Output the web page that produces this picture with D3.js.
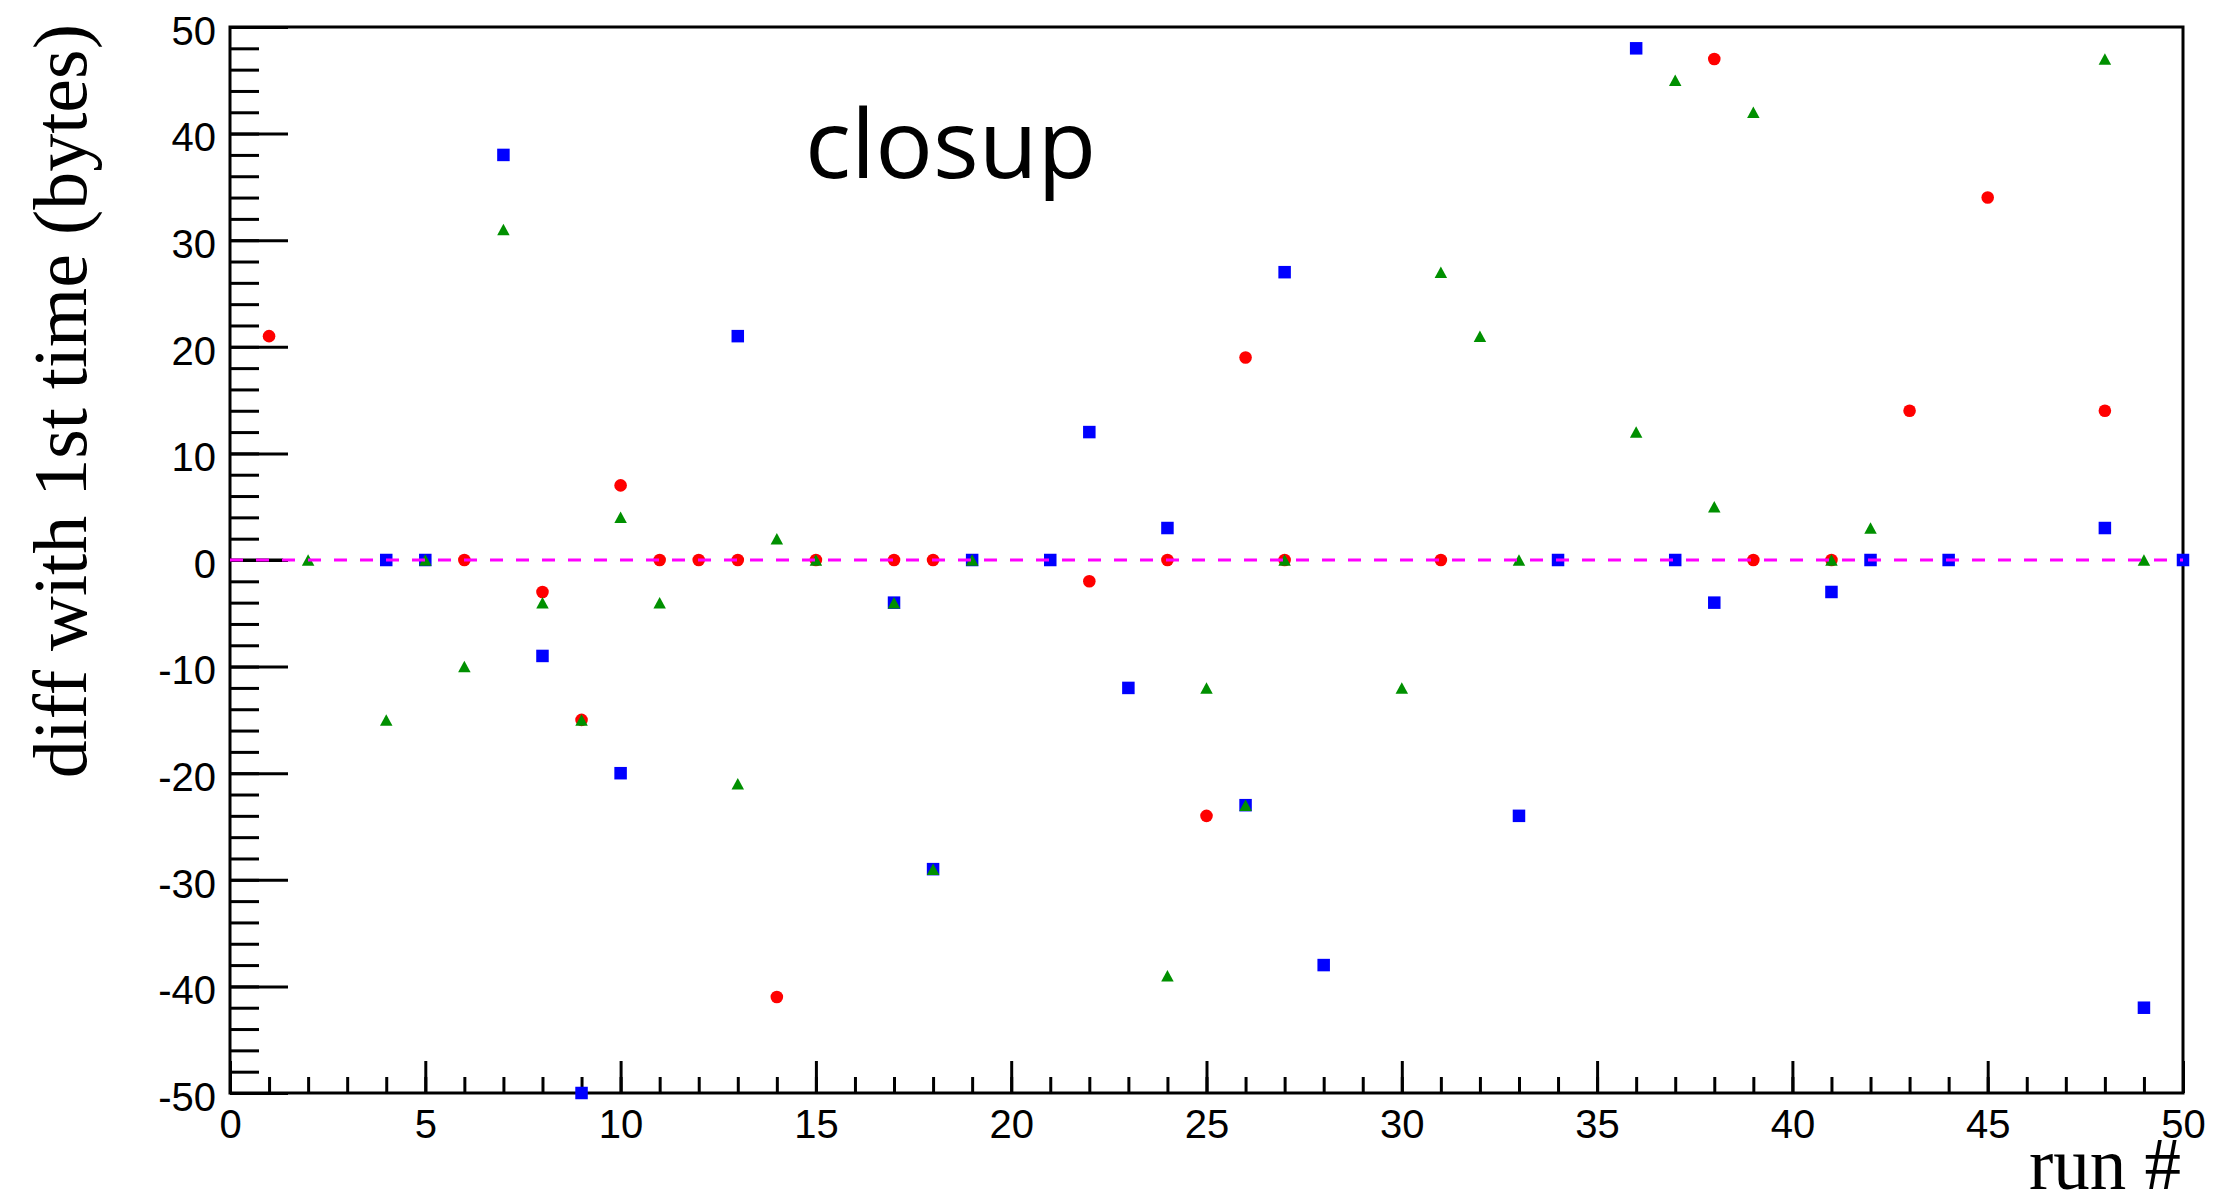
<!DOCTYPE html>
<html>
<head>
<meta charset="utf-8">
<script src="https://cdn.jsdelivr.net/npm/d3@7"></script>
<style>
    body { margin: 0; background: #fff; }
</style>
</head>
<body>
<div id="closup_plot"></div>
<script>
/**
 * Values: run number and diff (bytes) for each series.
 */
const redRuns   = [1, 6, 8, 9, 10, 11, 12, 13, 14, 15, 17, 18, 22, 24, 25, 26, 27, 31, 38, 39, 41, 43, 45, 48];
const redDiffs  = [21, 0, -3, -15, 7, 0, 0, 0, -41, 0, 0, 0, -2, 0, -24, 19, 0, 0, 47, 0, 0, 14, 34, 14];

const blueRuns  = [4, 5, 7, 8, 9, 10, 13, 17, 18, 19, 21, 22, 23, 24, 26, 27, 28, 33, 34, 36, 37, 38, 41, 42, 44, 48, 49, 50];
const blueDiffs = [0, 0, 38, -9, -50, -20, 21, -4, -29, 0, 0, 12, -12, 3, -23, 27, -38, -24, 0, 48, 0, -4, -3, 0, 0, 3, -42, 0];

const greenRuns  = [2, 4, 5, 6, 7, 8, 9, 10, 11, 13, 14, 15, 17, 18, 19, 24, 25, 26, 27, 30, 31, 32, 33, 36, 37, 38, 39, 41, 42, 48, 49];
const greenDiffs = [0, -15, 0, -10, 31, -4, -15, 4, -4, -21, 2, 0, -4, -29, 0, -39, -12, -23, 0, -12, 27, 21, 0, 12, 45, 5, 42, 0, 3, 47, 0];

// Reference level (dashed) and the short black stub at the left.
const refLevel = 0;
const stubRuns = [0, 1.36];

// Axis ranges and labelled ticks.
const xDomain = [0, 50];
const yDomain = [-50, 50];
const xTicks = [0, 5, 10, 15, 20, 25, 30, 35, 40, 45, 50];
const yTicks = [-50, -40, -30, -20, -10, 0, 10, 20, 30, 40, 50];

const titleText = "closup";
const xTitle = "run #";
const yTitle = "diff with 1st time (bytes)";

/**
 * Dimensions of the page and the frame.
 */
const PageW = 2216;
const PageH = 1199;
const Frame = { left: 230, right: 2183, top: 27, bottom: 1093 };

const Colors = { red: "#ff0000", blue: "#0000ff", green: "#009000", ref: "#ff00ff" };


const createSvg = () => {
    return d3.select("#closup_plot")
        .append("svg")
            .attr("width", PageW)
            .attr("height", PageH);
}


const getScales = () => {
    const x = d3.scaleLinear()
        .domain(xDomain)
        .range([Frame.left, Frame.right]);
    const y = d3.scaleLinear()
        .domain(yDomain)
        .range([Frame.bottom, Frame.top]);
    return { x, y };
}


const printAxes = (svg, x, y) => {
    const tickFmt = d => String(d);

    // Minor ticks first, no labels.
    svg.append("g")
        .attr("transform", `translate(${Frame.left},0)`)
        .call(d3.axisLeft(y)
            .tickValues(d3.range(yDomain[0], yDomain[1] + 1, 2))
            .tickSize(-29)
            .tickFormat(""))
        .call(g => g.select(".domain").remove());

    svg.append("g")
        .attr("transform", `translate(0,${Frame.bottom})`)
        .call(d3.axisBottom(x)
            .tickValues(d3.range(xDomain[0], xDomain[1] + 1, 1))
            .tickSize(-16)
            .tickFormat(""))
        .call(g => g.select(".domain").remove());

    // Major ticks with labels.
    svg.append("g")
        .attr("transform", `translate(${Frame.left},0)`)
        .call(d3.axisLeft(y)
            .tickValues(yTicks)
            .tickSize(-58)
            .tickPadding(14)
            .tickFormat(tickFmt))
        .call(g => g.select(".domain").remove())
        .call(g => g.selectAll("text").attr("dy", "0.43em"));

    svg.append("g")
        .attr("transform", `translate(0,${Frame.bottom})`)
        .call(d3.axisBottom(x)
            .tickValues(xTicks)
            .tickSize(-32)
            .tickPadding(17)
            .tickFormat(tickFmt))
        .call(g => g.select(".domain").remove());

    svg.selectAll(".tick line")
        .attr("stroke", "#000")
        .attr("stroke-width", 3);
    svg.selectAll(".tick text")
        .attr("fill", "#000")
        .style("font-family", "'Liberation Sans', Arial, Helvetica, sans-serif")
        .style("font-size", "40px");

    // The frame.
    svg.append("rect")
        .attr("x", Frame.left)
        .attr("y", Frame.top)
        .attr("width", Frame.right - Frame.left)
        .attr("height", Frame.bottom - Frame.top)
        .attr("fill", "none")
        .attr("stroke", "#000")
        .attr("stroke-width", 3);
}


const zip = (runs, diffs) => runs.map((r, i) => ({ run: r, diff: diffs[i] }));


// Triangle centred on its bounding box, like the ROOT marker.
const trianglePath = (cx, cy, w, h) =>
    `M${cx},${cy - h / 2}L${cx + w / 2},${cy + h / 2}L${cx - w / 2},${cy + h / 2}Z`;


const printSeries = (svg, x, y) => {
    // Red circles.
    svg.append("g")
        .selectAll("circle")
        .data(zip(redRuns, redDiffs))
        .join("circle")
            .attr("cx", d => x(d.run))
            .attr("cy", d => y(d.diff))
            .attr("r", 6.3)
            .attr("fill", Colors.red);

    // Blue squares.
    const side = 12.5;
    svg.append("g")
        .selectAll("rect")
        .data(zip(blueRuns, blueDiffs))
        .join("rect")
            .attr("x", d => x(d.run) - side / 2)
            .attr("y", d => y(d.diff) - side / 2)
            .attr("width", side)
            .attr("height", side)
            .attr("fill", Colors.blue);

    // Green triangles.
    svg.append("g")
        .selectAll("path")
        .data(zip(greenRuns, greenDiffs))
        .join("path")
            .attr("d", d => trianglePath(x(d.run), y(d.diff), 12.5, 11.5))
            .attr("fill", Colors.green);
}


const printReference = (svg, x, y) => {
    // Short black stub at zero on the left.
    svg.append("line")
        .attr("x1", x(stubRuns[0]))
        .attr("x2", x(stubRuns[1]))
        .attr("y1", y(refLevel))
        .attr("y2", y(refLevel))
        .attr("stroke", "#000")
        .attr("stroke-width", 3);

    // Dashed magenta line across the frame.
    svg.append("line")
        .attr("x1", x(xDomain[0]))
        .attr("x2", x(xDomain[1]))
        .attr("y1", y(refLevel))
        .attr("y2", y(refLevel))
        .attr("stroke", Colors.ref)
        .attr("stroke-width", 3)
        .style("stroke-dasharray", "13,13");
}


const printTitles = (svg) => {
    svg.append("text")
        .attr("x", 805)
        .attr("y", 178)
        .style("font-family", "'Open Sans', 'Noto Sans', sans-serif")
        .style("font-size", "96px")
        .attr("fill", "#000")
        .text(titleText);

    svg.append("text")
        .attr("text-anchor", "end")
        .attr("x", Frame.right - 2)
        .attr("y", 1189)
        .style("font-family", "'Liberation Serif', 'Times New Roman', serif")
        .style("font-size", "73px")
        .attr("fill", "#000")
        .text(xTitle);

    svg.append("text")
        .attr("text-anchor", "end")
        .attr("transform", `translate(86,${Frame.top - 3}) rotate(-90)`)
        .style("font-family", "'Liberation Serif', 'Times New Roman', serif")
        .style("font-size", "76px")
        .attr("fill", "#000")
        .text(yTitle);
}


const printPlot = () => {
    const svg = createSvg();
    const { x, y } = getScales();
    // Ticks, labels and frame.
    printAxes(svg, x, y);
    // Markers for the three series.
    printSeries(svg, x, y);
    // Black stub and dashed reference on top, as in the original.
    printReference(svg, x, y);
    // Title and axis titles.
    printTitles(svg);
}


printPlot();
</script>
</body>
</html>
